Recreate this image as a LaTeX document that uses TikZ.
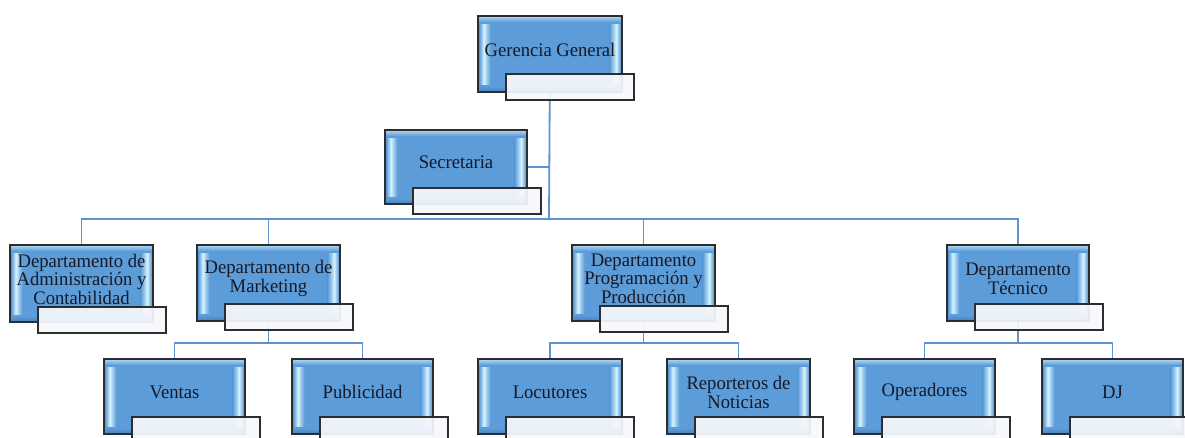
\documentclass[tikz,border=0pt]{standalone}
\usepackage{fontspec}
\setmainfont[FakeStretch=0.97]{Liberation Serif}
\usetikzlibrary{backgrounds}

\definecolor{unitblue}{RGB}{92,156,216}
\definecolor{unitdeep}{RGB}{74,132,200}
\definecolor{bevel}{RGB}{212,242,255}
\definecolor{edgegray}{RGB}{45,45,45}
\definecolor{tagfill}{RGB}{246,248,252}
\definecolor{linkblue}{RGB}{96,146,205}
\definecolor{inkdark}{RGB}{22,26,40}

\tikzset{
  unitbox/.style={draw=edgegray, line width=1.3pt, fill=unitblue, inner sep=0pt},
  tagbox/.style={draw=edgegray, line width=1.3pt, fill=tagfill, fill opacity=0.93,
                 minimum width=128pt, minimum height=26pt, inner sep=0pt},
  unittext/.style={text=inkdark, align=center, inner sep=0pt,
                   font=\fontsize{19.2}{18.6}\selectfont},
  link/.style={draw=linkblue, line width=1.8pt}
}

% #1 name, #2 centre x, #3 top y, #4 width, #5 height, #6 text, #7 tag overlap
\newcommand\orgunit[7]{%
  \node[unitbox, minimum width=#4pt, minimum height=#5pt, anchor=north] (#1) at (#2,#3) {};
  % bevelled highlights along the edges
  \shade[top color=bevel!55!unitblue, bottom color=unitblue]
    ([xshift=2pt,yshift=-1.5pt]#1.north west) rectangle ([xshift=-2pt,yshift=-6pt]#1.north east);
  \shade[top color=unitblue, bottom color=unitdeep]
    ([xshift=2pt,yshift=6pt]#1.south west) rectangle ([xshift=-2pt,yshift=1.5pt]#1.south east);
  \shade[left color=unitblue, right color=bevel]
    ([xshift=2pt,yshift=-8pt]#1.north west) rectangle ([xshift=6.5pt,yshift=8pt]#1.south west);
  \shade[left color=bevel, right color=unitblue]
    ([xshift=6.5pt,yshift=-8pt]#1.north west) rectangle ([xshift=13pt,yshift=8pt]#1.south west);
  \shade[right color=unitblue, left color=bevel]
    ([xshift=-2pt,yshift=-8pt]#1.north east) rectangle ([xshift=-6.5pt,yshift=8pt]#1.south east);
  \shade[right color=bevel, left color=unitblue]
    ([xshift=-6.5pt,yshift=-8pt]#1.north east) rectangle ([xshift=-13pt,yshift=8pt]#1.south east);
  \draw[edgegray, line width=1.3pt] (#1.north west) rectangle (#1.south east);
  \node[tagbox, anchor=north west] (#1-l) at ([xshift=28pt,yshift=#7pt]#1.south west) {};
  \node[unittext] (#1-t) at ([yshift=4.5pt]#1.center) {#6};
}

\begin{document}
\begin{tikzpicture}[x=1pt, y=-1pt]
  \useasboundingbox (0,0) rectangle (1185,437);
  \clip (0,0) rectangle (1185,437);

  % top management
  \orgunit{gg}{550}{16}{144}{75}{Gerencia General}{19}
  \orgunit{sec}{456}{130}{142}{73}{Secretaria}{17}

  % departments
  \orgunit{adm}{81.5}{245}{143}{76}{Departamento de\\Administración y\\Contabilidad}{16}
  \orgunit{mkt}{268.5}{245}{143}{75}{Departamento de\\Marketing}{18}
  \orgunit{prg}{643.5}{245}{143}{75}{Departamento\\Programación y\\Producción}{16}
  \orgunit{tec}{1018}{245}{142}{75}{Departamento\\Técnico}{18}

  % sections
  \orgunit{ven}{174.5}{359}{141}{74}{Ventas}{18}
  \orgunit{pub}{362.5}{359}{141}{74}{Publicidad}{18}
  \orgunit{loc}{550}{359}{144}{74}{Locutores}{18}
  \orgunit{rep}{738.5}{359}{143}{74}{Reporteros de\\Noticias}{18}
  \orgunit{ope}{924.5}{359}{141}{74}{Operadores}{18}
  \orgunit{dj}{1112.5}{359}{141}{74}{DJ}{18}

  \begin{scope}[on background layer]
    \fill[white] (0,0) rectangle (1185,437);
    \coordinate (trunk) at (549,219);
    \coordinate (mktbus) at (268.5,343);
    \coordinate (prgbus) at (643.5,343);
    \coordinate (tecbus) at (1018,343);

    \draw[link] (gg.center) -- (trunk);
    \draw[link] (sec.east) -- (sec.east -| trunk);
    \draw[link] (adm.north) -- (adm.north |- trunk) -- (tec.north |- trunk) -- (tec.north);
    \draw[link] (mkt.north) -- (mkt.north |- trunk);
    \draw[link] (prg.north) -- (prg.north |- trunk);

    \draw[link] (mkt.center) -- (mktbus);
    \draw[link] (ven.north) -- (ven.north |- mktbus) -- (pub.north |- mktbus) -- (pub.north);
    \draw[link] (prg.center) -- (prgbus);
    \draw[link] (loc.north) -- (loc.north |- prgbus) -- (rep.north |- prgbus) -- (rep.north);
    \draw[link] (tec.center) -- (tecbus);
    \draw[link] (ope.north) -- (ope.north |- tecbus) -- (dj.north |- tecbus) -- (dj.north);
  \end{scope}
\end{tikzpicture}
\end{document}
